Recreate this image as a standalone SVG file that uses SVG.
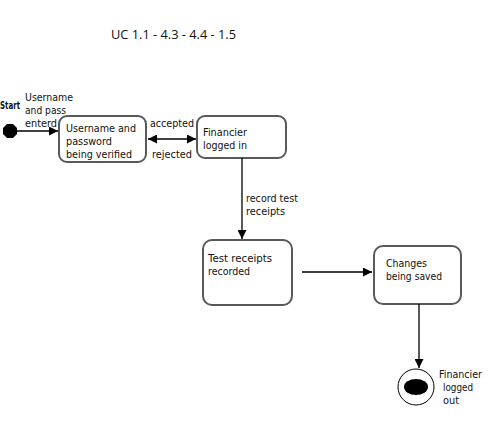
<svg xmlns="http://www.w3.org/2000/svg" width="491" height="428" viewBox="0 0 491 428">
  <style>
    .state rect { fill: #fff; stroke: #595959; stroke-width: 2; }
    .lbl { font-family: "DejaVu Sans", "Liberation Sans", sans-serif; font-size: 10.5px; fill: #111; }
    .title { font-family: "Open Sans", "Liberation Sans", sans-serif; font-size: 13px; fill: #111; }
    .edge { stroke: #000; stroke-width: 1.3; fill: none; }
  </style>
  <defs>
    <marker id="arrow" viewBox="0 0 10 10" refX="10" refY="5" markerWidth="9" markerHeight="9" markerUnits="userSpaceOnUse" orient="auto-start-reverse">
      <path d="M0,0 L10,5 L0,10 z" fill="#000"/>
    </marker>
  </defs>

  <rect width="491" height="428" fill="#fff"/>

  <text class="title" x="111" y="39" textLength="125" lengthAdjust="spacingAndGlyphs">UC 1.1 - 4.3 - 4.4 - 1.5</text>

  <g id="start">
    <polygon points="7,124 13,124 17,128 17,134 13,138 7,138 3,134 3,128" fill="#000"/>
    <text class="lbl" x="0" y="109" font-weight="bold" textLength="20" lengthAdjust="spacingAndGlyphs">Start</text>
  </g>

  <g id="verifying" class="state">
    <rect x="59" y="116" width="87" height="46" rx="8"/>
    <text class="lbl" x="66" y="132" textLength="70" lengthAdjust="spacingAndGlyphs">Username and</text>
    <text class="lbl" x="66" y="145" textLength="46" lengthAdjust="spacingAndGlyphs">password</text>
    <text class="lbl" x="66" y="158" textLength="66" lengthAdjust="spacingAndGlyphs">being verified</text>
  </g>

  <g id="logged-in" class="state">
    <rect x="197" y="116" width="89" height="42" rx="8"/>
    <text class="lbl" x="203" y="136" textLength="44" lengthAdjust="spacingAndGlyphs">Financier</text>
    <text class="lbl" x="203" y="149" textLength="44" lengthAdjust="spacingAndGlyphs">logged in</text>
  </g>

  <g id="receipts-recorded" class="state">
    <rect x="203" y="240" width="89" height="65" rx="9"/>
    <text class="lbl" x="208" y="262" textLength="64" lengthAdjust="spacingAndGlyphs">Test receipts</text>
    <text class="lbl" x="208" y="275" textLength="42" lengthAdjust="spacingAndGlyphs">recorded</text>
  </g>

  <g id="saving" class="state">
    <rect x="374" y="246" width="87" height="58" rx="9"/>
    <text class="lbl" x="386" y="267" textLength="41" lengthAdjust="spacingAndGlyphs">Changes</text>
    <text class="lbl" x="386" y="280" textLength="56" lengthAdjust="spacingAndGlyphs">being saved</text>
  </g>

  <g id="end">
    <circle cx="416" cy="387" r="18" fill="#fff" stroke="#000" stroke-width="1"/>
    <ellipse cx="416" cy="387" rx="12" ry="8" fill="#000"/>
    <text class="lbl" x="439" y="378" textLength="43" lengthAdjust="spacingAndGlyphs">Financier</text>
    <text class="lbl" x="443" y="391" textLength="30" lengthAdjust="spacingAndGlyphs">logged</text>
    <text class="lbl" x="443" y="404" textLength="16" lengthAdjust="spacingAndGlyphs">out</text>
  </g>

  <g id="connectors">
    <line class="edge" x1="17" y1="131" x2="58" y2="131" marker-end="url(#arrow)"/>
    <text class="lbl" x="25" y="101" textLength="48" lengthAdjust="spacingAndGlyphs">Username</text>
    <text class="lbl" x="25" y="114" textLength="41" lengthAdjust="spacingAndGlyphs">and pass</text>
    <text class="lbl" x="25" y="127" textLength="32" lengthAdjust="spacingAndGlyphs">enterd</text>

    <line class="edge" x1="148" y1="139" x2="196" y2="139" marker-start="url(#arrow)" marker-end="url(#arrow)"/>
    <text class="lbl" x="150" y="127" textLength="44" lengthAdjust="spacingAndGlyphs">accepted</text>
    <text class="lbl" x="152" y="158" textLength="40" lengthAdjust="spacingAndGlyphs">rejected</text>

    <line class="edge" x1="242" y1="158" x2="242" y2="239" marker-end="url(#arrow)"/>
    <text class="lbl" x="246" y="202" textLength="52" lengthAdjust="spacingAndGlyphs">record test</text>
    <text class="lbl" x="246" y="215" textLength="39" lengthAdjust="spacingAndGlyphs">receipts</text>

    <line class="edge" x1="302" y1="272" x2="372" y2="272" marker-end="url(#arrow)"/>

    <line class="edge" x1="419" y1="304" x2="419" y2="368" marker-end="url(#arrow)"/>
  </g>
</svg>
